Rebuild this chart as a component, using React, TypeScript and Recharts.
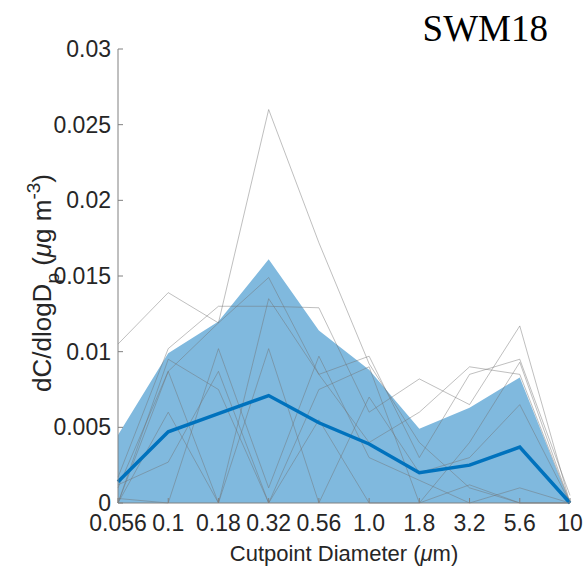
import { ComposedChart, Area, Line, XAxis, YAxis } from "recharts"

// cutpoint diameters (um)
const categories = ["0.056", "0.1", "0.18", "0.32", "0.56", "1.0", "1.8", "3.2", "5.6", "10"]

// mean of all samples
const meanValues = [0.0014, 0.0047, 0.0059, 0.0071, 0.0053, 0.0039, 0.002, 0.0025, 0.0037, 0]

// upper edge of shaded band (band sits on zero)
const bandUpper = [0.0045, 0.0099, 0.012, 0.0161, 0.0114, 0.0088, 0.0049, 0.0063, 0.0083, 0]

// individual samples
const sample1 = [0.0105, 0.0139, 0.0119, 0.0149, 0.0085, 0.0097, 0.003, 0.0085, 0.0095, 0.0005]
const sample2 = [0.001, 0.0087, 0.0119, 0.026, 0.0172, 0.0092, 0.004, 0.001, 0, 0]
const sample3 = [0.0017, 0.0102, 0.013, 0.013, 0.0129, 0.006, 0.0082, 0.0065, 0.0117, 0]
const sample4 = [0, 0.0087, 0, 0.0102, 0, 0.007, 0.002, 0.003, 0.0065, 0]
const sample5 = [0.0012, 0.0027, 0.0087, 0, 0.0075, 0.009, 0, 0.004, 0.0093, 0]
const sample6 = [0, 0.006, 0, 0.0135, 0.0085, 0.004, 0.006, 0.009, 0.0085, 0]
const sample7 = [0.0003, 0, 0.0102, 0.001, 0.0097, 0.003, 0.0015, 0, 0.001, 0]
const sample8 = [0, 0.0095, 0.0075, 0, 0.0055, 0, 0, 0.0012, 0, 0]

const samples = [sample1, sample2, sample3, sample4, sample5, sample6, sample7, sample8]

const yTicks = [0, 0.005, 0.01, 0.015, 0.02, 0.025, 0.03]

const data = categories.map((c, i) => {
  const row: Record<string, number | string | number[]> = {
    size: c,
    mean: meanValues[i],
    band: [0, bandUpper[i]],
  }
  samples.forEach((s, k) => {
    row["s" + k] = s[i]
  })
  return row
})

const font = "'Liberation Sans', Arial, Helvetica, sans-serif"
const textColor = "#262626"
const axisColor = "#808080"
const tickFont = 23
const xGap = 12
const yGap = 7

// MATLAB style ticks: short marks pointing into the plot
const XTick = (props: any) => {
  const { x, y, payload } = props
  const axisY = y - xGap
  return (
    <g>
      <line x1={x} x2={x} y1={axisY} y2={axisY - 5} stroke={axisColor} />
      <text x={x} y={y} dy="0.71em" textAnchor="middle" fontSize={tickFont} fontFamily={font} fill={textColor}>
        {payload.value}
      </text>
    </g>
  )
}

const YTick = (props: any) => {
  const { x, y, payload } = props
  const axisX = x + yGap
  return (
    <g>
      <line x1={axisX} x2={axisX + 5} y1={y} y2={y} stroke={axisColor} />
      <text x={x} y={y} dy="0.35em" textAnchor="end" fontSize={tickFont} fontFamily={font} fill={textColor}>
        {String(payload.value)}
      </text>
    </g>
  )
}

export default function App() {
  return (
    <div style={{ position: "absolute", left: 0, top: 0, width: 587, height: 573, background: "#fff" }}>
      <ComposedChart
        width={587}
        height={573}
        data={data}
        margin={{ top: 49, right: 17, bottom: 40, left: 0 }}
      >
        <XAxis
          dataKey="size"
          scale="point"
          type="category"
          height={30}
          padding={{ left: 0, right: 0 }}
          stroke={axisColor}
          tickLine={false}
          tickSize={0}
          tickMargin={xGap}
          interval={0}
          tick={<XTick />}
        />
        <YAxis
          width={118}
          domain={[0, 0.03]}
          ticks={yTicks}
          type="number"
          stroke={axisColor}
          tickLine={false}
          tickSize={0}
          tickMargin={yGap}
          interval={0}
          tick={<YTick />}
        />
        <Area
          type="linear"
          dataKey="band"
          stroke="none"
          fill="#80b9de"
          fillOpacity={1}
          isAnimationActive={false}
        />
        {samples.map((_, k) => (
          <Line
            key={k}
            type="linear"
            dataKey={"s" + k}
            stroke="#707070"
            strokeOpacity={0.45}
            strokeWidth={1}
            dot={false}
            isAnimationActive={false}
          />
        ))}
        <Line
          type="linear"
          dataKey="mean"
          stroke="#0072BD"
          strokeWidth={3.5}
          dot={false}
          isAnimationActive={false}
        />
      </ComposedChart>
      <svg
        width={587}
        height={573}
        style={{ position: "absolute", left: 0, top: 0, pointerEvents: "none" }}
      >
        <text x={548} y={41} textAnchor="end" fontFamily="'Liberation Serif', 'Times New Roman', serif" fontSize={37} fill="#000">
          SWM18
        </text>
        <text x={344} y={561} textAnchor="middle" fontFamily={font} fontSize={22} fill={textColor}>
          Cutpoint Diameter (<tspan fontStyle="italic">μ</tspan>m)
        </text>
        <text
          transform="translate(51,283) rotate(-90)"
          textAnchor="middle"
          fontFamily={font}
          fontSize={26}
          fill={textColor}
        >
          dC/dlogD<tspan dy={8} fontSize={19}>p</tspan>
          <tspan dy={-8}> (</tspan>
          <tspan fontStyle="italic">μ</tspan>
          <tspan>g m</tspan>
          <tspan dy={-11} fontSize={19}>-3</tspan>
          <tspan dy={11}>)</tspan>
        </text>
      </svg>
    </div>
  )
}
